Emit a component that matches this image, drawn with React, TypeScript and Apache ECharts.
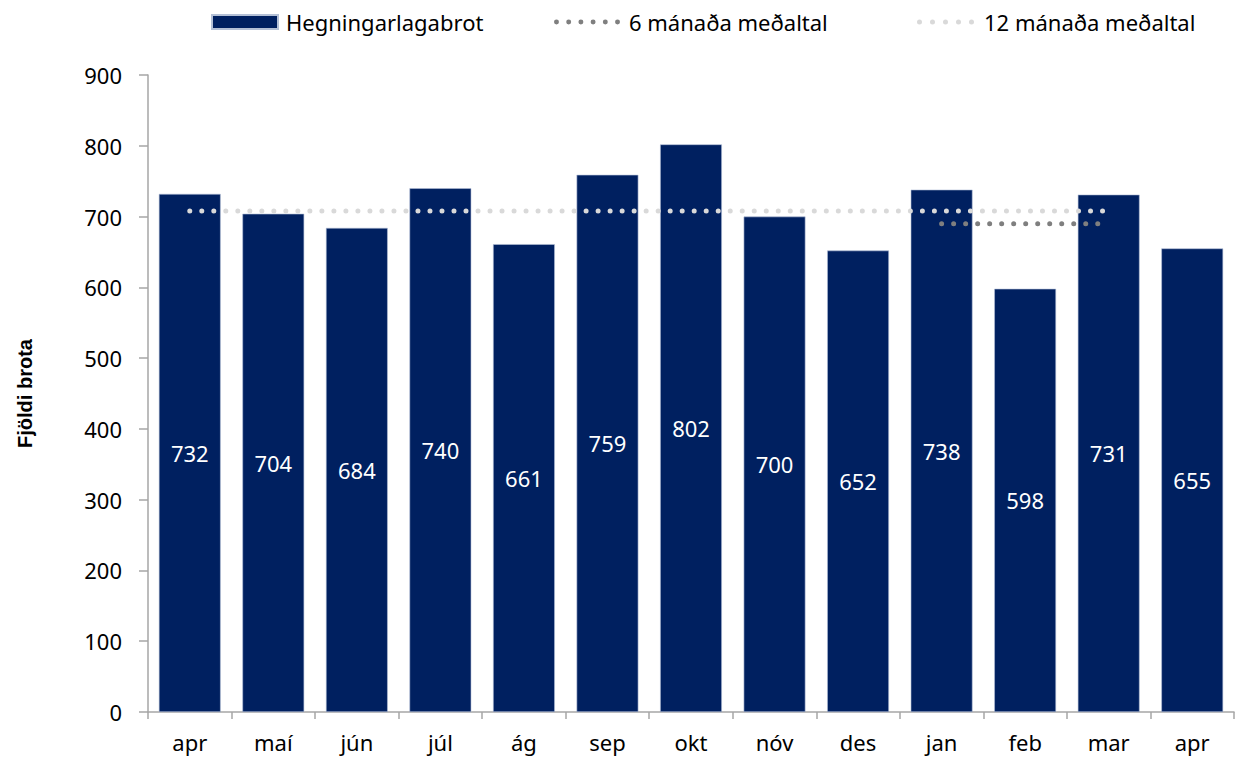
import React, { useEffect, useRef } from "react";
import * as echarts from "echarts";

const categories = ["apr", "maí", "jún", "júl", "ág", "sep", "okt", "nóv", "des", "jan", "feb", "mar", "apr"];
const offences = [732, 704, 684, 740, 661, 759, 802, 700, 652, 738, 598, 731, 655];
const avg6 = [null, null, null, null, null, null, null, null, null, 690, 690, 690, null];
const avg12 = [708, 708, 708, 708, 708, 708, 708, 708, 708, 708, 708, 708, null];
const yTicks = { min: 0, max: 900, interval: 100 };

const FONT = "'Noto Sans', 'Open Sans', sans-serif";
const FS = 22;

function dotsPath(n: number, step: number) {
  let d = "path://";
  for (let i = 0; i < n; i++) {
    const cx = 2.5 + i * step;
    d += `M${cx - 2.5},2.5a2.5,2.5 0 1,0 5,0a2.5,2.5 0 1,0 -5,0Z`;
  }
  return d;
}

export default function App() {
  const ref = useRef<HTMLDivElement>(null);
  useEffect(() => {
    if (!ref.current) return;
    const chart = echarts.init(ref.current, undefined, { renderer: "svg" });
    const dots = (color: string) => ({
      color,
      width: 5,
      type: [0.01, 12] as any,
      cap: "round" as any,
    });
    const legendText = { fontSize: FS, color: "#000", fontFamily: FONT };
    chart.setOption({
      animation: false,
      textStyle: { fontFamily: FONT },
      legend: [
        {
          top: 6,
          left: 206,
          itemWidth: 66,
          itemHeight: 14,
          textStyle: { ...legendText, padding: [0, 0, 0, 3] },
          data: [{ name: "Hegningarlagabrot", icon: "rect" }],
        },
        {
          top: 6,
          left: 549,
          itemWidth: 66,
          itemHeight: 5,
          textStyle: { ...legendText, padding: [0, 0, 0, 4] },
          data: [{ name: "6 mánaða meðaltal", icon: dotsPath(6, 12.3) }],
        },
        {
          top: 6,
          left: 912,
          itemWidth: 57,
          itemHeight: 5,
          textStyle: { ...legendText, padding: [0, 0, 0, 5] },
          data: [{ name: "12 mánaða meðaltal", icon: dotsPath(5, 13) }],
        },
      ],
      grid: { left: 148, right: 4, top: 75, bottom: 48, containLabel: false },
      xAxis: {
        type: "category",
        data: categories,
        axisLine: { lineStyle: { color: "#A6A6A6", width: 1.5 } },
        axisTick: { show: true, length: 7, lineStyle: { color: "#A6A6A6", width: 1.5 } },
        axisLabel: { fontSize: FS, color: "#000", margin: 19, fontFamily: FONT },
      },
      yAxis: {
        type: "value",
        min: yTicks.min,
        max: yTicks.max,
        interval: yTicks.interval,
        name: "Fjöldi brota",
        nameLocation: "middle",
        nameGap: 113,
        nameRotate: 90,
        nameTextStyle: { fontSize: 20, fontWeight: "bold", color: "#000", fontFamily: "'Liberation Sans', Arial, sans-serif" },
        axisLine: { show: true, lineStyle: { color: "#A6A6A6", width: 1.5 } },
        axisTick: { show: true, length: 9, lineStyle: { color: "#A6A6A6", width: 1.5 } },
        splitLine: { show: false },
        axisLabel: { fontSize: FS, color: "#000", margin: 26, fontFamily: FONT },
      },
      series: [
        {
          name: "Hegningarlagabrot",
          type: "bar",
          data: offences,
          barCategoryGap: "26%",
          itemStyle: { color: "#002060", borderColor: "#B4C0D6", borderWidth: 0.6 },
          label: {
            show: true,
            position: "inside",
            color: "#fff",
            fontSize: FS,
            fontFamily: FONT,
          },
          z: 1,
        },
        {
          name: "12 mánaða meðaltal",
          type: "line",
          data: avg12,
          symbol: "none",
          lineStyle: dots("#D9D9D9"),
          itemStyle: { color: "#D9D9D9" },
          z: 3,
        },
        {
          name: "6 mánaða meðaltal",
          type: "line",
          data: avg6,
          symbol: "none",
          lineStyle: dots("#7F7F7F"),
          itemStyle: { color: "#7F7F7F" },
          z: 3,
        },
      ],
    });
    return () => chart.dispose();
  }, []);
  return <div ref={ref} style={{ width: 1238, height: 760, position: "absolute", left: 0, top: 0 }} />;
}
